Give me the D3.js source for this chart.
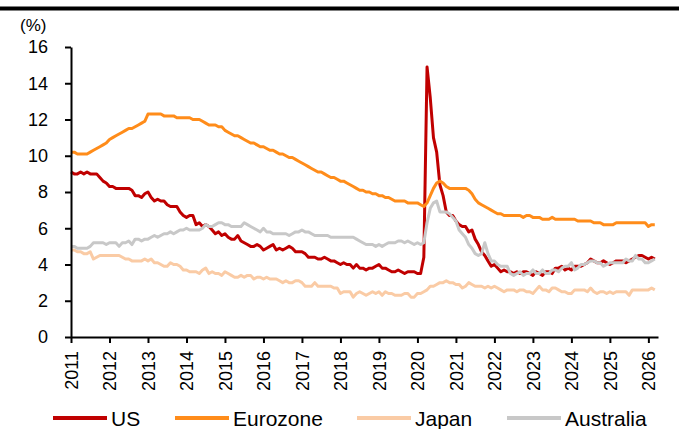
<!DOCTYPE html>
<html>
<head>
<meta charset="utf-8">
<script src="https://cdn.jsdelivr.net/npm/d3@7"></script>
<style>
  body { margin: 0; background: #fff; }
  svg { display: block; font-family: Arial, "Liberation Sans", sans-serif; }
  .axis path, .axis line { stroke: #000; stroke-width: 2px; }
  .axis text { font-size: 18px; fill: #000; }
  .series { fill: none; stroke-width: 3px; stroke-linejoin: round; }
</style>
</head>
<body>
<div id="chart"></div>
<script>
// monthly, Jan 2011 .. Mar 2026
var start_year = 2011;
var us = [
  9.1,9.0,9.0,9.1,9.0,9.1,9.0,9.0,9.0,8.8,8.6,8.5,
  8.3,8.3,8.2,8.2,8.2,8.2,8.2,8.1,7.8,7.8,7.7,7.9,
  8.0,7.7,7.5,7.6,7.5,7.5,7.3,7.2,7.2,7.2,6.9,6.7,
  6.6,6.7,6.7,6.2,6.3,6.1,6.2,6.1,5.9,5.7,5.8,5.6,
  5.7,5.5,5.4,5.4,5.6,5.3,5.2,5.1,5.0,5.0,5.1,5.0,
  4.8,4.9,5.0,5.1,4.8,4.9,4.8,4.9,5.0,4.9,4.7,4.7,
  4.7,4.6,4.4,4.4,4.4,4.3,4.3,4.4,4.3,4.2,4.2,4.1,
  4.0,4.1,4.0,4.0,3.8,4.0,3.8,3.8,3.7,3.8,3.8,3.9,
  4.0,3.8,3.8,3.7,3.6,3.6,3.7,3.6,3.5,3.6,3.6,3.6,
  3.5,3.5,4.4,14.9,13.2,11.0,10.2,8.4,7.8,6.9,6.7,6.7,
  6.4,6.2,6.1,6.1,5.8,5.9,5.4,5.1,4.7,4.5,4.2,3.9,
  4.0,3.8,3.6,3.7,3.6,3.6,3.5,3.6,3.5,3.6,3.6,3.5,
  3.4,3.6,3.5,3.4,3.6,3.6,3.5,3.8,3.8,3.9,3.7,3.8,
  3.7,3.9,3.9,3.9,4.0,4.1,4.3,4.2,4.1,4.1,4.2,4.1,
  4.0,4.1,4.2,4.2,4.2,4.1,4.2,4.3,4.4,4.5,4.5,4.4,
  4.3,4.4,4.3
];
var eurozone = [
  10.2,10.2,10.1,10.1,10.1,10.1,10.2,10.3,10.4,10.5,10.6,10.7,
  10.9,11.0,11.1,11.2,11.3,11.4,11.5,11.5,11.6,11.7,11.8,11.9,
  12.3,12.3,12.3,12.3,12.3,12.2,12.2,12.2,12.2,12.1,12.1,12.1,
  12.1,12.1,12.0,12.0,12.0,11.9,11.8,11.7,11.7,11.7,11.6,11.6,
  11.4,11.3,11.2,11.1,11.1,11.0,10.9,10.8,10.7,10.7,10.6,10.5,
  10.5,10.4,10.3,10.3,10.2,10.1,10.1,10.0,9.9,9.9,9.8,9.7,
  9.6,9.5,9.4,9.3,9.2,9.1,9.1,9.0,8.9,8.8,8.8,8.7,
  8.6,8.6,8.5,8.4,8.3,8.2,8.1,8.1,8.0,8.0,7.9,7.9,
  7.8,7.8,7.7,7.7,7.6,7.5,7.5,7.5,7.5,7.4,7.4,7.4,
  7.4,7.3,7.2,7.4,7.8,8.2,8.5,8.6,8.5,8.3,8.2,8.2,
  8.2,8.2,8.2,8.2,8.1,7.9,7.6,7.4,7.3,7.2,7.1,7.0,
  6.9,6.8,6.8,6.7,6.7,6.7,6.7,6.7,6.7,6.6,6.7,6.7,
  6.6,6.6,6.6,6.5,6.5,6.5,6.6,6.5,6.5,6.5,6.5,6.5,
  6.5,6.5,6.4,6.4,6.4,6.4,6.4,6.3,6.3,6.3,6.2,6.2,
  6.2,6.2,6.3,6.3,6.3,6.3,6.3,6.3,6.3,6.3,6.3,6.3,
  6.1,6.2,6.2
];
var japan = [
  4.8,4.8,4.7,4.7,4.6,4.6,4.7,4.3,4.4,4.5,4.5,4.5,
  4.5,4.5,4.5,4.5,4.4,4.3,4.3,4.2,4.2,4.2,4.2,4.3,
  4.2,4.3,4.1,4.1,4.0,3.9,3.9,4.1,4.0,4.0,3.9,3.7,
  3.7,3.6,3.6,3.6,3.5,3.7,3.8,3.5,3.6,3.5,3.5,3.4,
  3.6,3.5,3.4,3.3,3.3,3.4,3.3,3.4,3.4,3.2,3.3,3.3,
  3.2,3.3,3.2,3.2,3.2,3.1,3.0,3.1,3.0,3.0,3.1,3.1,
  3.0,2.8,2.8,2.8,3.0,2.8,2.8,2.8,2.8,2.8,2.7,2.7,
  2.4,2.5,2.5,2.5,2.2,2.4,2.5,2.4,2.3,2.4,2.5,2.4,
  2.5,2.3,2.5,2.4,2.4,2.3,2.3,2.3,2.4,2.4,2.2,2.2,
  2.4,2.4,2.5,2.6,2.8,2.8,2.9,3.0,3.0,3.1,3.0,3.0,
  2.9,2.9,2.7,2.8,3.0,2.9,2.8,2.8,2.8,2.7,2.8,2.7,
  2.8,2.7,2.6,2.5,2.6,2.6,2.6,2.5,2.6,2.6,2.5,2.5,
  2.4,2.6,2.8,2.6,2.6,2.5,2.7,2.7,2.6,2.5,2.5,2.4,
  2.4,2.6,2.6,2.6,2.6,2.5,2.7,2.5,2.4,2.5,2.5,2.4,
  2.5,2.4,2.5,2.5,2.5,2.5,2.3,2.6,2.6,2.6,2.6,2.6,
  2.6,2.7,2.6
];
var australia = [
  5.0,5.0,4.9,4.9,4.9,4.9,5.0,5.2,5.2,5.2,5.2,5.1,
  5.2,5.2,5.2,5.0,5.2,5.2,5.3,5.1,5.4,5.4,5.3,5.4,
  5.4,5.5,5.6,5.5,5.6,5.7,5.7,5.8,5.7,5.8,5.9,5.9,
  6.0,5.9,5.9,5.9,5.9,6.0,6.2,6.1,6.1,6.2,6.3,6.3,
  6.2,6.2,6.1,6.1,6.1,6.1,6.3,6.2,6.1,6.0,5.9,5.8,
  6.0,5.8,5.8,5.7,5.7,5.7,5.7,5.7,5.6,5.7,5.8,5.8,
  5.9,5.8,5.8,5.7,5.6,5.6,5.6,5.6,5.6,5.5,5.5,5.5,
  5.5,5.5,5.5,5.5,5.5,5.4,5.3,5.2,5.1,5.1,5.1,5.0,
  5.1,5.0,5.1,5.2,5.2,5.2,5.3,5.3,5.2,5.3,5.2,5.1,
  5.2,5.1,5.2,6.3,7.1,7.4,7.5,6.9,6.9,6.9,6.8,6.6,
  6.4,5.9,5.7,5.5,5.1,4.9,4.6,4.5,4.6,5.2,4.6,4.2,
  4.2,4.0,3.9,3.9,3.9,3.5,3.4,3.5,3.6,3.4,3.5,3.5,
  3.7,3.5,3.5,3.7,3.5,3.5,3.7,3.7,3.6,3.8,3.9,3.9,
  4.1,3.7,3.8,4.0,4.0,4.1,4.2,4.2,4.1,4.1,3.9,4.0,
  4.1,4.1,4.1,4.1,4.1,4.3,4.2,4.2,4.5,4.3,4.3,4.1,
  4.1,4.2,4.3
];
var series_names = ['US', 'Eurozone', 'Japan', 'Australia'];
var series_colors = ['#C00000', '#FF8C1A', '#FACBA5', '#C8C8C8'];
var y_ticks = [0, 2, 4, 6, 8, 10, 12, 14, 16];
var year_ticks = d3.range(2011, 2027);

var width = 679, height = 429,
    margin = {left: 71, top: 47, right: 21, bottom: 92},
    inner_w = width - margin.left - margin.right,
    inner_h = height - margin.top - margin.bottom;

var svg = d3.select('#chart').append('svg')
    .attr('width', width)
    .attr('height', height);

// heavy rule under the (cropped) figure title
svg.append('rect')
    .attr('x', 0).attr('y', 6.5)
    .attr('width', width).attr('height', 4)
    .attr('fill', '#000');

var chart = svg.append('g')
    .attr('transform', 'translate(' + margin.left + ',' + margin.top + ')');

var scale_x = d3.scaleLinear()
    .domain([2011, 2026.25])
    .range([0, inner_w]);

var scale_y = d3.scaleLinear()
    .domain([0, 16])
    .range([inner_h, 0]);

var data = [us, eurozone, japan, australia].map(function (vals, k) {
    return {
        name: series_names[k],
        color: series_colors[k],
        values: vals.map(function (v, i) {
            return {t: start_year + i / 12, v: v};
        })
    };
});

var line_generator = d3.line()
    .x(function (d) { return scale_x(d.t); })
    .y(function (d) { return scale_y(d.v); });

chart.selectAll('.series')
    .data(data)
    .enter()
    .append('path')
    .attr('class', 'series')
    .attr('d', function (d) { return line_generator(d.values); })
    .attr('stroke', function (d) { return d.color; });

// y axis
chart.append('g')
    .attr('class', 'axis')
    .call(d3.axisLeft(scale_y)
        .tickValues(y_ticks)
        .tickSize(6)
        .tickSizeOuter(0)
        .tickPadding(17));

// x axis
var x_axis = chart.append('g')
    .attr('class', 'axis')
    .attr('transform', 'translate(0,' + inner_h + ')')
    .call(d3.axisBottom(scale_x)
        .tickValues(year_ticks)
        .tickFormat(d3.format('d'))
        .tickSize(6)
        .tickSizeOuter(0));

x_axis.selectAll('text')
    .attr('transform', 'rotate(-90)')
    .attr('text-anchor', 'end')
    .attr('x', -14)
    .attr('y', 0)
    .attr('dy', '0.35em');

// unit label
svg.append('text')
    .text('(%)')
    .attr('x', 20)
    .attr('y', 31)
    .attr('font-size', 17);

// legend
var legend_x = [53, 175, 357, 507];
var legend = svg.selectAll('.legend')
    .data(data)
    .enter()
    .append('g')
    .attr('transform', function (d, i) {
        return 'translate(' + legend_x[i] + ',418)';
    });

legend.append('line')
    .attr('x1', 0).attr('x2', 54)
    .attr('y1', 0).attr('y2', 0)
    .attr('stroke', function (d) { return d.color; })
    .attr('stroke-width', 4);

legend.append('text')
    .text(function (d) { return d.name; })
    .attr('x', 58)
    .attr('y', 0)
    .attr('dy', '0.36em')
    .attr('font-size', 21);
</script>
</body>
</html>
